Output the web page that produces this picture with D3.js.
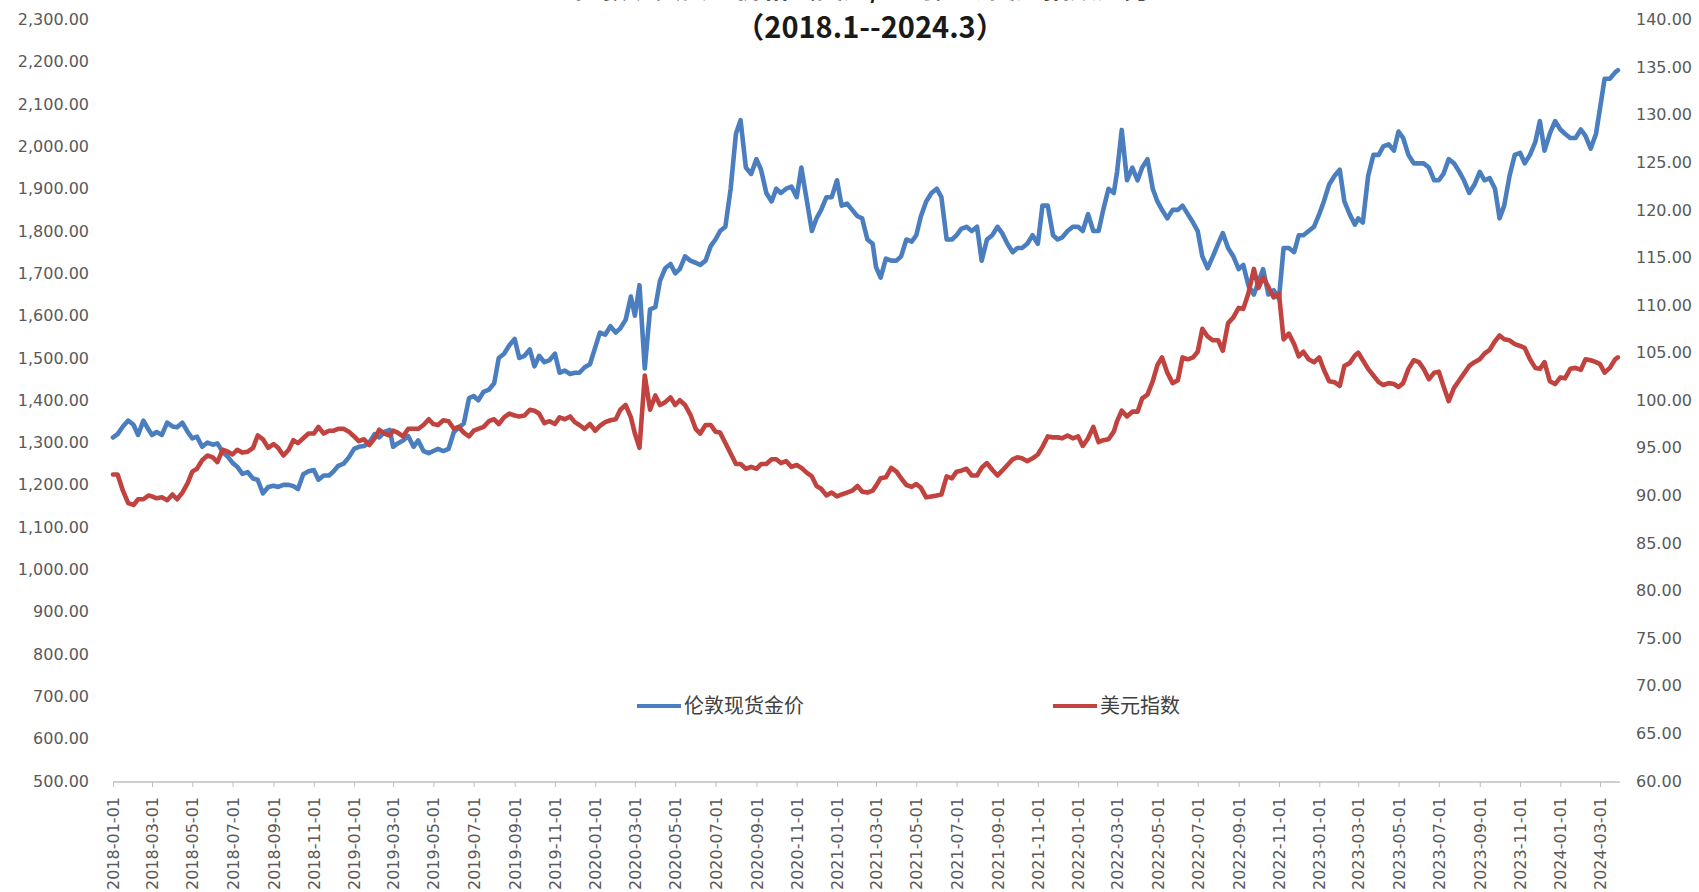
<!DOCTYPE html>
<html>
<head>
<meta charset="utf-8">
<script src="https://cdn.jsdelivr.net/npm/d3@7"></script>
<style>
  html, body { margin: 0; padding: 0; background: #fff; overflow: hidden; }
  svg { display: block; }
</style>
</head>
<body>
<svg id="chart" width="1699" height="892"></svg>
<script>
// Monthly buckets; each month holds four weekly readings taken on sampleDays
const months = [
  "2018-01","2018-02","2018-03","2018-04","2018-05","2018-06","2018-07","2018-08","2018-09","2018-10","2018-11","2018-12",
  "2019-01","2019-02","2019-03","2019-04","2019-05","2019-06","2019-07","2019-08","2019-09","2019-10","2019-11","2019-12",
  "2020-01","2020-02","2020-03","2020-04","2020-05","2020-06","2020-07","2020-08","2020-09","2020-10","2020-11","2020-12",
  "2021-01","2021-02","2021-03","2021-04","2021-05","2021-06","2021-07","2021-08","2021-09","2021-10","2021-11","2021-12",
  "2022-01","2022-02","2022-03","2022-04","2022-05","2022-06","2022-07","2022-08","2022-09","2022-10","2022-11","2022-12",
  "2023-01","2023-02","2023-03","2023-04","2023-05","2023-06","2023-07","2023-08","2023-09","2023-10","2023-11","2023-12",
  "2024-01","2024-02","2024-03"
];
const sampleDays = [1, 8, 16, 24];

// London spot gold, USD/oz
const goldPrice = [
  1312,1320,1338,1352, 1342,1318,1352,1330, 1318,1325,1318,1347, 1338,1336,1347,1325,
  1310,1314,1290,1300, 1295,1298,1278,1266, 1252,1243,1226,1230, 1215,1212,1180,1195,
  1198,1195,1200,1200, 1197,1190,1225,1232, 1235,1212,1222,1222, 1232,1245,1250,1265,
  1285,1290,1292,1300, 1320,1312,1325,1330, 1290,1298,1305,1315, 1290,1305,1280,1275,
  1280,1285,1280,1285, 1325,1335,1345,1405, 1410,1400,1420,1425, 1440,1500,1510,1530,
  1545,1500,1505,1520, 1480,1505,1490,1495, 1510,1465,1470,1462, 1465,1465,1478,1485,
  1525,1560,1555,1575, 1560,1570,1590,1645, 1600,1672,1475,1615, 1620,1682,1712,1722,
  1700,1710,1740,1730, 1725,1720,1730,1765, 1780,1800,1810,1900, 2030,2062,1950,1935,
  1970,1945,1890,1870, 1900,1890,1900,1905, 1880,1950,1875,1800, 1830,1850,1880,1880,
  1920,1860,1865,1850, 1835,1830,1780,1770, 1715,1690,1735,1730, 1730,1740,1780,1775,
  1790,1835,1870,1890, 1900,1880,1780,1780, 1790,1805,1810,1800, 1810,1730,1780,1790,
  1810,1795,1770,1750, 1760,1760,1770,1790, 1770,1860,1860,1790, 1780,1785,1800,1810,
  1810,1800,1840,1800, 1800,1850,1900,1890, 1940,2039,1920,1950, 1920,1950,1970,1900,
  1870,1850,1830,1850, 1850,1860,1840,1820, 1800,1740,1712,1740, 1770,1795,1760,1740,
  1710,1720,1670,1650, 1680,1710,1650,1660, 1640,1760,1760,1750, 1790,1790,1800,1810,
  1840,1870,1910,1930, 1945,1870,1840,1815, 1830,1820,1930,1980, 1980,2000,2005,1990,
  2035,2020,1980,1960, 1960,1960,1950,1920, 1920,1935,1970,1960, 1940,1920,1890,1910,
  1940,1920,1925,1900, 1830,1860,1930,1980, 1985,1960,1980,2010, 2060,1990,2030,2060,
  2040,2030,2020,2020, 2040,2025,1995,2030, 2090,2160,2160,2175
];

// US dollar index
const dollarIndex = [
  92.2,92.2,90.5,89.2, 89.0,89.6,89.6,90.0, 89.9,89.7,89.8,89.5, 90.1,89.6,90.3,91.3,
  92.5,92.8,93.7,94.2, 94.0,93.5,94.8,94.6, 94.3,94.8,94.5,94.6, 95.0,96.3,95.9,95.0,
  95.4,95.0,94.2,94.8, 95.8,95.5,96.0,96.5, 96.5,97.2,96.5,96.8, 96.8,97.0,97.0,96.7,
  96.2,95.7,95.9,95.3, 96.0,96.9,96.5,96.3, 96.8,96.6,96.2,97.0, 97.0,97.0,97.4,98.0,
  97.5,97.4,97.9,97.8, 97.0,97.2,96.6,96.2, 96.8,97.0,97.2,97.8, 98.0,97.5,98.2,98.6,
  98.4,98.3,98.4,99.0, 98.9,98.6,97.6,97.8, 97.5,98.2,98.0,98.3, 97.7,97.4,97.0,97.5,
  96.8,97.3,97.7,97.9, 98.0,99.0,99.5,98.2, 96.5,95.0,102.6,99.0, 100.5,99.5,99.8,100.3,
  99.5,100.0,99.5,98.5, 97.0,96.5,97.4,97.4, 96.7,96.6,95.5,94.4, 93.3,93.3,92.8,93.0,
  92.8,93.3,93.3,93.8, 93.8,93.4,93.6,93.0, 93.2,92.9,92.4,92.0, 91.0,90.7,90.0,90.3,
  89.9,90.1,90.3,90.5, 91.0,90.4,90.3,90.5, 91.0,91.8,91.9,92.9, 92.5,91.8,91.1,90.9,
  91.2,90.8,89.8,89.9, 90.0,90.1,92.0,91.8, 92.5,92.6,92.8,92.1, 92.1,92.9,93.4,92.7,
  92.1,92.6,93.2,93.8, 94.0,93.9,93.6,93.9, 94.3,95.1,96.2,96.1, 96.1,96.0,96.3,96.0,
  96.2,95.2,96.0,97.2, 95.6,95.8,95.9,96.7, 97.8,98.9,98.3,98.8, 98.8,100.2,100.6,102.0,
  103.7,104.5,102.9,101.8, 102.1,104.5,104.3,104.5, 105.1,107.5,106.7,106.3, 106.3,105.2,108.1,108.7,
  109.7,109.6,111.3,113.8, 111.8,112.9,111.9,110.8, 111.2,106.4,107.0,105.9, 104.6,105.1,104.3,104.0,
  104.5,103.2,102.0,101.9, 101.5,103.6,103.9,104.7, 105.0,104.2,103.3,102.6, 101.9,101.6,101.8,101.7,
  101.4,101.8,103.3,104.2, 104.0,103.3,102.2,102.9, 103.0,101.5,99.9,101.3, 102.1,102.8,103.6,104.0,
  104.3,104.9,105.3,106.2, 106.8,106.4,106.3,105.9, 105.7,105.5,104.3,103.4, 103.3,104.0,102.0,101.7,
  102.4,102.3,103.3,103.4, 103.2,104.3,104.2,104.0, 103.8,102.9,103.4,104.3
];

// Last reading of the period
const endDate = "2024-03-28";
const endGold = 2180;
const endDollar = 104.5;

const dateTickLabels = [
  "2018-01-01","2018-03-01","2018-05-01","2018-07-01","2018-09-01","2018-11-01",
  "2019-01-01","2019-03-01","2019-05-01","2019-07-01","2019-09-01","2019-11-01",
  "2020-01-01","2020-03-01","2020-05-01","2020-07-01","2020-09-01","2020-11-01",
  "2021-01-01","2021-03-01","2021-05-01","2021-07-01","2021-09-01","2021-11-01",
  "2022-01-01","2022-03-01","2022-05-01","2022-07-01","2022-09-01","2022-11-01",
  "2023-01-01","2023-03-01","2023-05-01","2023-07-01","2023-09-01","2023-11-01",
  "2024-01-01","2024-03-01"
];
const leftTicks = [500,600,700,800,900,1000,1100,1200,1300,1400,1500,1600,1700,1800,1900,2000,2100,2200,2300];
const rightTicks = [60,65,70,75,80,85,90,95,100,105,110,115,120,125,130,135,140];

const seriesNames = ["伦敦现货金价", "美元指数"];
const seriesColors = ["#4A7EBF", "#C1433F"];
const titleLines = ["伦敦现货黄金价格（美元/盎司）与美元指数走势", "（2018.1--2024.3）"];

// ---- layout ----
const parseDay = d3.timeParse("%Y-%m-%d");
const svg = d3.select("#chart");
const plotLeft = 113, plotTop = 19.5, plotBottom = 781;

const x = d3.scaleTime()
  .domain([parseDay("2018-01-01"), parseDay("2024-03-01")])
  .range([plotLeft, 1600]);
const axisEnd = parseDay("2024-03-31");

const yGold = d3.scaleLinear().domain([500, 2300]).range([plotBottom, plotTop]);
const yDollar = d3.scaleLinear().domain([60, 140]).range([plotBottom, plotTop]);

// ---- series points ----
function buildSeries(values, lastValue) {
  const pts = [];
  months.forEach((m, i) => {
    sampleDays.forEach((day, k) => {
      pts.push({ date: parseDay(m + "-" + String(day).padStart(2, "0")), value: values[i * sampleDays.length + k] });
    });
  });
  pts.push({ date: parseDay(endDate), value: lastValue });
  return pts;
}
const goldSeries = buildSeries(goldPrice, endGold);
const dollarSeries = buildSeries(dollarIndex, endDollar);

// ---- title (first line sits above the top edge of the canvas) ----
svg.append("text")
  .attr("x", 862).attr("y", -2)
  .attr("text-anchor", "middle")
  .style("font-family", "'Noto Sans CJK SC', sans-serif")
  .style("font-weight", "bold")
  .style("font-size", "27px")
  .style("fill", "#1a1a1a")
  .text(titleLines[0]);

svg.append("text")
  .attr("x", 870).attr("y", 38)
  .attr("text-anchor", "middle")
  .style("font-family", "'Noto Sans CJK SC', sans-serif")
  .style("font-weight", "bold")
  .style("font-size", "29px")
  .style("fill", "#1a1a1a")
  .text(titleLines[1]);

// ---- axes ----
const tickFont = "'DejaVu Sans', sans-serif";
const tickColor = "#595959";

const leftAxis = d3.axisLeft(yGold)
  .tickValues(leftTicks)
  .tickFormat(d3.format(",.2f"))
  .tickSize(0).tickPadding(0);
const gL = svg.append("g").attr("transform", "translate(89,0)").call(leftAxis);
gL.select(".domain").remove();
gL.selectAll("text")
  .style("font-family", tickFont).style("font-size", "16px").style("fill", tickColor);

const rightAxis = d3.axisRight(yDollar)
  .tickValues(rightTicks)
  .tickFormat(d3.format(".2f"))
  .tickSize(0).tickPadding(0);
const gR = svg.append("g").attr("transform", "translate(1636,0)").call(rightAxis);
gR.select(".domain").remove();
gR.selectAll("text")
  .style("font-family", tickFont).style("font-size", "16px").style("fill", tickColor);

// bottom date axis
const gX = svg.append("g").attr("transform", `translate(0,${plotBottom + 1})`);
gX.append("line")
  .attr("x1", plotLeft).attr("x2", x(axisEnd))
  .attr("y1", 0).attr("y2", 0)
  .attr("stroke", "#bfbfbf").attr("stroke-width", 1.3);
const bottomAxis = d3.axisBottom(x)
  .tickValues(dateTickLabels.map(parseDay))
  .tickFormat(d3.timeFormat("%Y-%m-%d"))
  .tickSize(5).tickPadding(0);
const gXA = gX.append("g").call(bottomAxis);
gXA.select(".domain").remove();
gXA.selectAll(".tick line").attr("stroke", "#bfbfbf");
gXA.selectAll("text")
  .attr("transform", "rotate(-90)")
  .attr("x", -15).attr("y", 0).attr("dy", "0.35em")
  .attr("text-anchor", "end")
  .style("font-family", tickFont).style("font-size", "16px").style("fill", tickColor);

// ---- lines ----
const goldLine = d3.line().x(d => x(d.date)).y(d => yGold(d.value));
const dollarLine = d3.line().x(d => x(d.date)).y(d => yDollar(d.value));

svg.append("path").datum(goldSeries)
  .attr("d", goldLine)
  .attr("fill", "none").attr("stroke", seriesColors[0])
  .attr("stroke-width", 4.6).attr("stroke-linejoin", "round").attr("stroke-linecap", "round");

svg.append("path").datum(dollarSeries)
  .attr("d", dollarLine)
  .attr("fill", "none").attr("stroke", seriesColors[1])
  .attr("stroke-width", 4.6).attr("stroke-linejoin", "round").attr("stroke-linecap", "round");

// ---- legend ----
const legendItems = [
  { name: seriesNames[0], color: seriesColors[0], x: 637 },
  { name: seriesNames[1], color: seriesColors[1], x: 1053 }
];
const legend = svg.append("g").attr("transform", "translate(0,706)");
legendItems.forEach(item => {
  legend.append("line")
    .attr("x1", item.x).attr("x2", item.x + 44)
    .attr("y1", 0).attr("y2", 0)
    .attr("stroke", item.color).attr("stroke-width", 4);
  legend.append("text")
    .attr("x", item.x + 47).attr("y", 0).attr("dy", "0.36em")
    .style("font-family", "'Noto Sans CJK SC', sans-serif")
    .style("font-size", "20px")
    .style("fill", "#404040")
    .text(item.name);
});
</script>
</body>
</html>
